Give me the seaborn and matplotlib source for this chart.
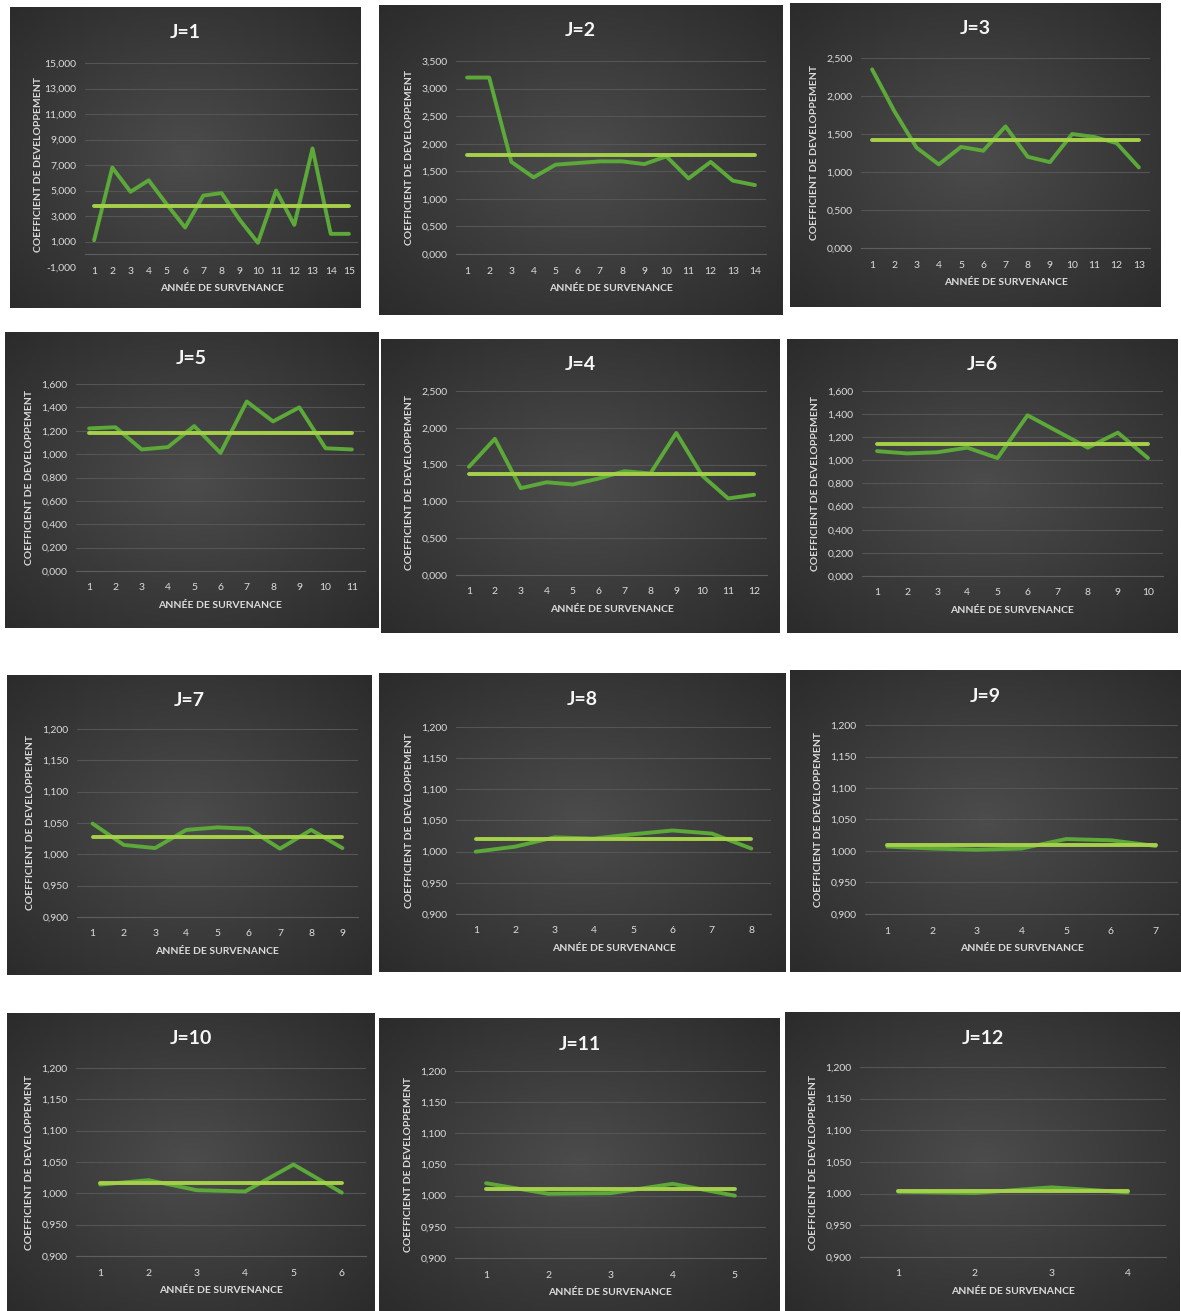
import numpy as np
import pandas as pd
import matplotlib
matplotlib.use("Agg")
import matplotlib.pyplot as plt
from matplotlib.ticker import FuncFormatter, FixedLocator
import seaborn as sns

# Development factors per accident year, one list per development lag J
J1 = [1.10, 6.80, 4.90, 5.80, 3.90, 2.10, 4.60, 4.80, 2.70, 0.90, 5.00, 2.30, 8.30, 1.60, 1.60]
J2 = [3.20, 3.20, 1.67, 1.39, 1.62, 1.65, 1.68, 1.68, 1.63, 1.77, 1.37, 1.67, 1.33, 1.25]
J3 = [2.35, 1.80, 1.32, 1.10, 1.33, 1.28, 1.60, 1.20, 1.13, 1.50, 1.46, 1.38, 1.06]
J4 = [1.47, 1.85, 1.18, 1.26, 1.23, 1.31, 1.41, 1.38, 1.93, 1.35, 1.04, 1.09]
J5 = [1.22, 1.23, 1.04, 1.06, 1.24, 1.01, 1.45, 1.28, 1.40, 1.05, 1.04]
J6 = [1.08, 1.06, 1.07, 1.11, 1.02, 1.39, 1.25, 1.11, 1.24, 1.02]
J7 = [1.049, 1.015, 1.010, 1.039, 1.043, 1.041, 1.009, 1.039, 1.010]
J8 = [1.000, 1.008, 1.023, 1.021, 1.028, 1.034, 1.029, 1.005]
J9 = [1.007, 1.004, 1.002, 1.004, 1.019, 1.017, 1.008]
J10 = [1.014, 1.021, 1.005, 1.003, 1.046, 1.001]
J11 = [1.020, 1.003, 1.004, 1.019, 1.000]
J12 = [1.003, 1.001, 1.010, 1.002]
FACTORS = [J1, J2, J3, J4, J5, J6, J7, J8, J9, J10, J11, J12]

# Selected (average) development factor per lag
SELECTED = [3.80, 1.80, 1.42, 1.37, 1.18, 1.14, 1.028, 1.020, 1.010, 1.016, 1.010, 1.004]

# Value axis settings per lag
Y_MIN = [-1.0, 0.0, 0.0, 0.0, 0.0, 0.0, 0.90, 0.90, 0.90, 0.90, 0.90, 0.90]
Y_MAX = [15.0, 3.5, 2.5, 2.5, 1.6, 1.6, 1.20, 1.20, 1.20, 1.20, 1.20, 1.20]
Y_STEP = [2.0, 0.5, 0.5, 0.5, 0.2, 0.2, 0.05, 0.05, 0.05, 0.05, 0.05, 0.05]

TITLES = [f"J={j}" for j in range(1, 13)]
X_LABEL = "ANNÉE DE SURVENANCE"
Y_LABEL = "COEFFICIENT DE DEVELOPPEMENT"

# Page layout in pixels: chart box (x0, y0, x1, y1) and plot area (x0, y0, x1, y1)
W, H = 1181, 1311
BOXES = {
    1: ((10, 7, 361, 308), (85, 63, 358, 267)),
    2: ((379, 5, 782, 315), (456, 61, 766, 254)),
    3: ((790, 3, 1161, 307), (861, 58, 1150, 248)),
    5: ((5, 332, 378, 628), (76, 384, 365, 571)),
    4: ((381, 339, 780, 633), (456, 391, 767, 575)),
    6: ((787, 339, 1178, 633), (862, 391, 1163, 576)),
    7: ((7, 675, 372, 975), (77, 729, 358, 917)),
    8: ((379, 673, 785, 972), (456, 727, 771, 914)),
    9: ((790, 670, 1181, 972), (865, 725, 1178, 914)),
    10: ((7, 1013, 375, 1311), (76, 1068, 366, 1256)),
    11: ((379, 1018, 780, 1311), (455, 1071, 766, 1258)),
    12: ((785, 1012, 1180, 1311), (860, 1067, 1166, 1257)),
}

FONT = ["Lato", "DejaVu Sans"]
TEXT = "#dcdcdc"
GRID = "#555555"
DATA_GREEN = "#5ca93a"
MEAN_GREEN = "#a6d04a"

sns.set_theme(style="dark")
plt.rcParams["font.family"] = FONT

fig = plt.figure(figsize=(W / 100, H / 100), dpi=100)
fig.patch.set_facecolor("white")


def frac_rect(x0, y0, x1, y1):
    return [x0 / W, 1 - y1 / H, (x1 - x0) / W, (y1 - y0) / H]


def radial_background(ax):
    yy, xx = np.mgrid[-1:1:200j, -1:1:200j]
    r = np.clip(np.sqrt(xx ** 2 + yy ** 2) / np.sqrt(2), 0, 1)
    c0 = np.array([0x4c, 0x4c, 0x4c]) / 255
    c1 = np.array([0x2b, 0x2b, 0x2b]) / 255
    img = c0[None, None, :] * (1 - r[..., None]) + c1[None, None, :] * r[..., None]
    ax.imshow(img, extent=(0, 1, 0, 1), aspect="auto", interpolation="bilinear")
    ax.set_xlim(0, 1)
    ax.set_ylim(0, 1)
    ax.axis("off")


def fmt_fr(v, _pos=None):
    return f"{v:.3f}".replace(".", ",")


for j in range(1, 13):
    box, plot = BOXES[j]
    values = FACTORS[j - 1]
    n = len(values)
    years = np.arange(1, n + 1)

    bg = fig.add_axes(frac_rect(*box))
    radial_background(bg)
    bx0, by0, bx1, by1 = box
    px0, py0, px1, py1 = plot
    bg.text(0.5, 1 - 26 / (by1 - by0), TITLES[j - 1],
            transform=bg.transAxes, ha="center", va="center", color="#f6f6f6",
            fontsize=14, fontweight="bold")

    ax = fig.add_axes(frac_rect(*plot))
    ax.set_facecolor("none")
    df = pd.DataFrame({"annee": years, "coef": values,
                       "moyenne": [SELECTED[j - 1]] * n})
    sns.lineplot(data=df, x="annee", y="coef", ax=ax, color=DATA_GREEN,
                 linewidth=2.8, solid_joinstyle="round", solid_capstyle="round")
    sns.lineplot(data=df, x="annee", y="moyenne", ax=ax, color=MEAN_GREEN,
                 linewidth=2.8, solid_capstyle="round")

    ymin, ymax, step = Y_MIN[j - 1], Y_MAX[j - 1], Y_STEP[j - 1]
    ticks = np.round(np.arange(ymin, ymax + step / 2, step), 4)
    ax.set_ylim(ymin, ymax)
    ax.yaxis.set_major_locator(FixedLocator(ticks))
    ax.yaxis.set_major_formatter(FuncFormatter(fmt_fr))
    ax.set_xlim(0.5, n + 0.5)
    ax.set_xticks(years)
    ax.set_xticks(np.arange(0.5, n + 1), minor=True)

    ax.grid(False)
    ax.yaxis.grid(True, color=GRID, linewidth=0.8)
    for side in ("top", "right", "left"):
        ax.spines[side].set_visible(False)
    base = 0.0 if ymin < 0 else ymin
    ax.spines["bottom"].set_position(("data", base))
    ax.spines["bottom"].set_color("#5e5e5e")
    ax.spines["bottom"].set_linewidth(0.8)

    ax.tick_params(axis="y", length=0, pad=6, labelsize=7.5, labelcolor=TEXT)
    ax.tick_params(axis="x", which="major", length=0, pad=9, labelsize=7.5, labelcolor=TEXT)
    ax.tick_params(axis="x", which="minor", length=3, width=0.7, color="#5e5e5e",
                   direction="out")

    h_px = py1 - py0
    w_px = px1 - px0
    base_frac = (base - ymin) / (ymax - ymin)
    ax.set_xlabel(X_LABEL, color=TEXT, fontsize=7.5, fontweight="bold")
    ax.xaxis.set_label_coords(0.5, base_frac - 30 / h_px)
    ax.set_ylabel(Y_LABEL, color=TEXT, fontsize=7.5, fontweight="bold")
    ax.yaxis.set_label_coords(-42 / w_px, 0.5)

fig.savefig("out.png", dpi=100, facecolor="white")
